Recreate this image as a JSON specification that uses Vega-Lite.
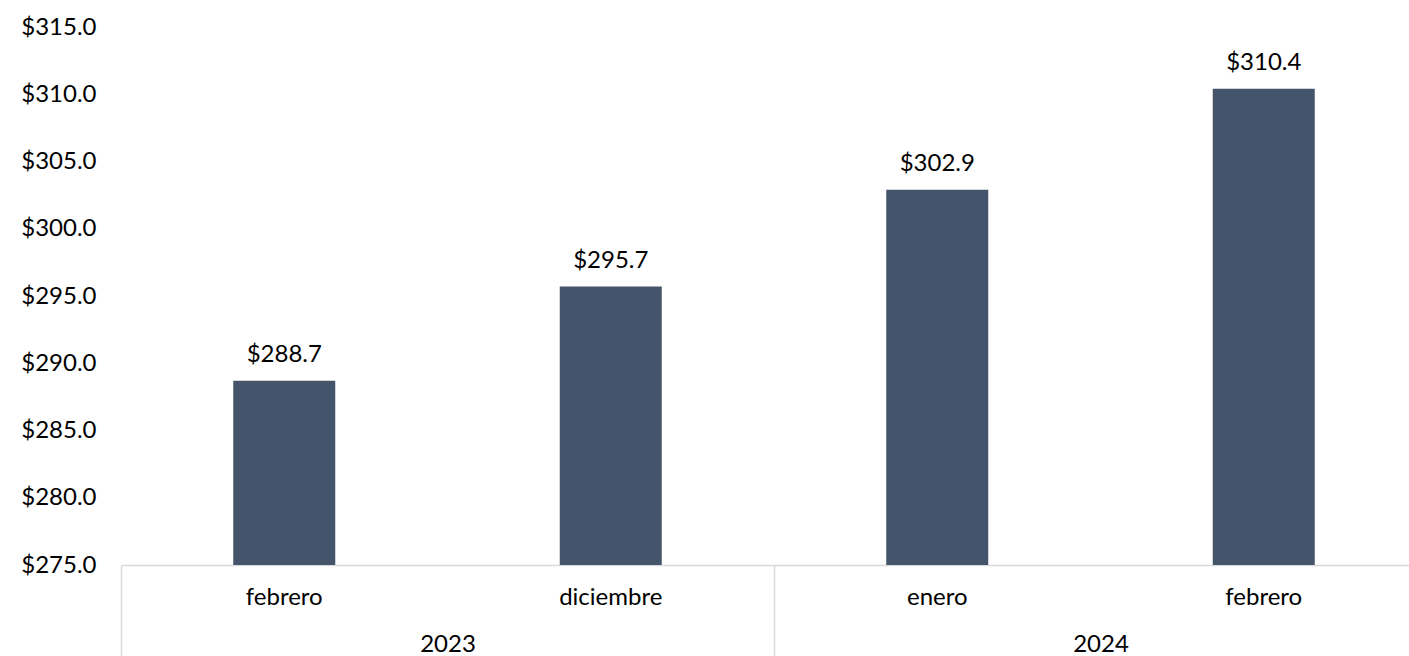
{
  "$schema": "https://vega.github.io/schema/vega-lite/v6.json",
  "width": 1288,
  "height": 538,
  "autosize": {"type": "none"},
  "padding": {"left": 121, "top": 27, "right": 0, "bottom": 91},
  "background": "white",
  "config": {
    "view": {"stroke": null},
    "font": "Lato",
    "axis": {"labelFont": "Lato", "labelFontSize": 24, "labelColor": "#000000", "grid": false}
  },
  "data": {
    "values": [
      {"periodo": "febrero|2023", "mes": "febrero", "anio": "2023", "valor": 288.7},
      {"periodo": "diciembre|2023", "mes": "diciembre", "anio": "2023", "valor": 295.7},
      {"periodo": "enero|2024", "mes": "enero", "anio": "2024", "valor": 302.9},
      {"periodo": "febrero|2024", "mes": "febrero", "anio": "2024", "valor": 310.4}
    ]
  },
  "resolve": {"scale": {"x": "independent"}, "axis": {"x": "independent"}},
  "layer": [
    {
      "encoding": {
        "x": {
          "field": "periodo",
          "type": "nominal",
          "sort": null,
          "scale": {"range": [0, 1306], "paddingInner": 0.6876, "paddingOuter": 0.3438},
          "axis": {
            "orient": "bottom",
            "title": null,
            "ticks": false,
            "domain": true,
            "domainColor": "#d9d9d9",
            "domainWidth": 1.5,
            "labelPadding": 20,
            "labelAngle": 0,
            "labelExpr": "split(datum.label, '|')[0]"
          }
        },
        "y": {
          "field": "valor",
          "type": "quantitative",
          "scale": {"domain": [275, 315], "nice": false, "zero": false},
          "axis": {
            "title": null,
            "values": [275, 280, 285, 290, 295, 300, 305, 310, 315],
            "format": "$.1f",
            "domain": false,
            "ticks": false,
            "labelPadding": 25
          }
        }
      },
      "layer": [
        {"mark": {"type": "bar", "color": "#44546A", "clip": true}},
        {
          "mark": {"type": "text", "baseline": "alphabetic", "dy": -19, "fontSize": 24, "font": "Lato", "color": "#000000"},
          "encoding": {"text": {"field": "valor", "type": "quantitative", "format": "$.1f"}}
        }
      ]
    },
    {
      "mark": {"type": "rule", "strokeOpacity": 0},
      "encoding": {
        "x": {
          "field": "anio",
          "type": "nominal",
          "sort": null,
          "scale": {"range": [0, 1306], "paddingInner": 0, "paddingOuter": 0},
          "axis": {
            "orient": "bottom",
            "title": null,
            "domain": false,
            "ticks": true,
            "tickBand": "extent",
            "tickSize": 92,
            "tickColor": "#d9d9d9",
            "tickWidth": 1.5,
            "labelPadding": -25,
            "labelAngle": 0
          }
        }
      }
    }
  ]
}
